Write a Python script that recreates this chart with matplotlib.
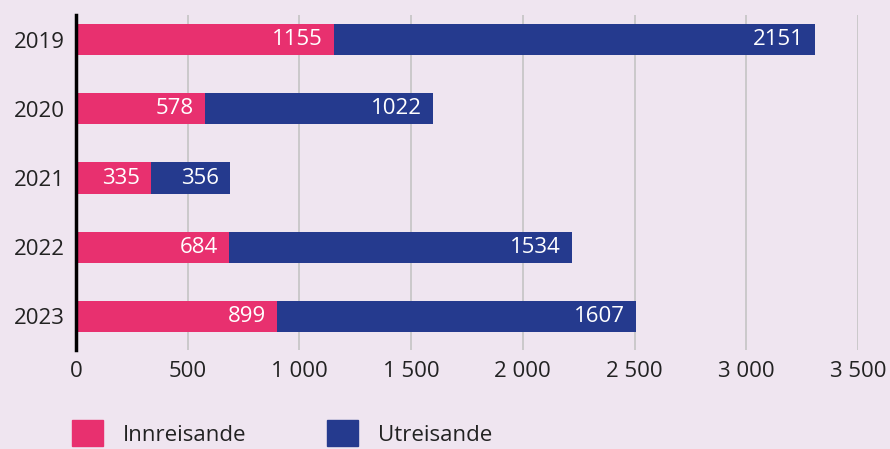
import matplotlib
matplotlib.use("Agg")
import matplotlib.pyplot as plt
from matplotlib.patches import Patch
from matplotlib.ticker import FuncFormatter

plt.rcParams['font.family'] = ['Open Sans', 'DejaVu Sans']

years = ['2019', '2020', '2021', '2022', '2023']
innreisande = [1155, 578, 335, 684, 899]
utreisande = [2151, 1022, 356, 1534, 1607]

bg = '#EFE5F0'
pink = '#E8306F'
blue = '#253A8E'

fig = plt.figure(figsize=(8.9, 4.49), dpi=100, facecolor=bg)
ax = fig.add_axes([76 / 890, 1 - 350 / 449, (858 - 76) / 890, 335 / 449])
ax.set_facecolor(bg)

pos = list(range(len(years)))
ax.barh(pos, innreisande, height=0.45, color=pink, zorder=3)
ax.barh(pos, utreisande, left=innreisande, height=0.45, color=blue, zorder=3)

# tal inne i stolpane
for i in pos:
    ax.annotate(str(innreisande[i]), (innreisande[i], i), xytext=(-8, 0),
                textcoords='offset points', ha='right', va='center',
                color='white', fontsize=16, zorder=4)
    tot = innreisande[i] + utreisande[i]
    ax.annotate(str(utreisande[i]), (tot, i), xytext=(-8, 0),
                textcoords='offset points', ha='right', va='center',
                color='white', fontsize=16, zorder=4)

ax.set_xlim(0, 3500)
ax.set_ylim(4.49, -0.36)
ax.set_xticks(range(0, 3501, 500))
ax.xaxis.set_major_formatter(FuncFormatter(lambda v, p: f'{int(v):,}'.replace(',', ' ')))
ax.set_yticks(pos)
ax.set_yticklabels(years)
ax.tick_params(axis='both', length=0, labelsize=16, colors='#222222')
ax.tick_params(axis='x', pad=8)
ax.tick_params(axis='y', pad=8)
ax.grid(axis='x', color='#c4c4c4', linewidth=1.2, zorder=0)

for s in ['top', 'right', 'bottom']:
    ax.spines[s].set_visible(False)
ax.spines['left'].set_color('black')
ax.spines['left'].set_linewidth(2.5)
ax.spines['left'].set_zorder(5)

handles = [Patch(color=pink, label='Innreisande'), Patch(color=blue, label='Utreisande')]
fig.legend(handles=handles, loc='lower left', bbox_to_anchor=(52 / 890, -17 / 449),
           ncol=2, frameon=False, fontsize=16, handlelength=1.4, handleheight=1.4,
           columnspacing=3.6, handletextpad=0.9, labelcolor='#222222')

fig.savefig('out.png', dpi=100, facecolor=bg)
